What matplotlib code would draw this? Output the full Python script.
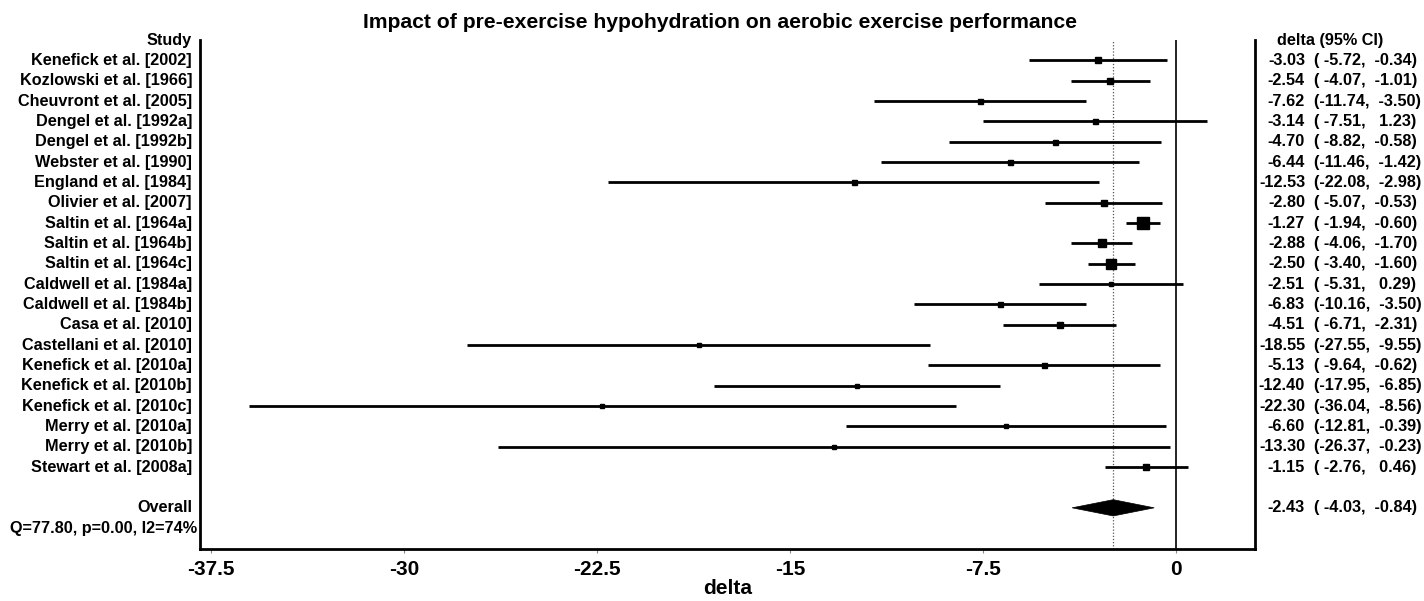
import matplotlib
matplotlib.use("Agg")
import matplotlib.pyplot as plt
from matplotlib.patches import Polygon
from matplotlib.transforms import blended_transform_factory

plt.rcParams["font.family"] = ["Liberation Sans", "DejaVu Sans"]
plt.rcParams["font.weight"] = "bold"

studies = [
    "Kenefick et al. [2002]", "Kozlowski et al. [1966]", "Cheuvront et al. [2005]",
    "Dengel et al. [1992a]", "Dengel et al. [1992b]", "Webster et al. [1990]",
    "England et al. [1984]", "Olivier et al. [2007]", "Saltin et al. [1964a]",
    "Saltin et al. [1964b]", "Saltin et al. [1964c]", "Caldwell et al. [1984a]",
    "Caldwell et al. [1984b]", "Casa et al. [2010]", "Castellani et al. [2010]",
    "Kenefick et al. [2010a]", "Kenefick et al. [2010b]", "Kenefick et al. [2010c]",
    "Merry et al. [2010a]", "Merry et al. [2010b]", "Stewart et al. [2008a]",
]
delta = [-3.03, -2.54, -7.62, -3.14, -4.70, -6.44, -12.53, -2.80, -1.27, -2.88, -2.50,
         -2.51, -6.83, -4.51, -18.55, -5.13, -12.40, -22.30, -6.60, -13.30, -1.15]
ci_low = [-5.72, -4.07, -11.74, -7.51, -8.82, -11.46, -22.08, -5.07, -1.94, -4.06, -3.40,
          -5.31, -10.16, -6.71, -27.55, -9.64, -17.95, -36.04, -12.81, -26.37, -2.76]
ci_high = [-0.34, -1.01, -3.50, 1.23, -0.58, -1.42, -2.98, -0.53, -0.60, -1.70, -1.60,
           0.29, -3.50, -2.31, -9.55, -0.62, -6.85, -8.56, -0.39, -0.23, 0.46]
# relative study weight, shown as box size (points)
box_size = [4.2, 5.0, 3.6, 3.6, 3.6, 3.6, 3.6, 3.8, 8.6, 5.8, 7.2,
            3.5, 3.6, 3.9, 3.5, 3.6, 3.5, 3.3, 3.5, 3.3, 4.3]

overall_delta = -2.43
overall_low = -4.03
overall_high = -0.84
heterogeneity = "Q=77.80, p=0.00, I2=74%"

xticks = [-37.5, -30, -22.5, -15, -7.5, 0]
xtick_labels = ["-37.5", "-30", "-22.5", "-15", "-7.5", "0"]

W, H = 1424, 601
fig = plt.figure(figsize=(W / 100, H / 100), dpi=100)
ax = fig.add_axes([200 / W, (H - 548.5) / H, 1055 / W, 508.5 / H])

n = len(studies)
rows = list(range(1, n + 1))
overall_row = n + 2
q_row = n + 3

ax.set_xlim(-37.94, 3.08)
ax.set_ylim(n + 4, 0)

# reference lines: no effect and pooled estimate
ax.axvline(0, color="black", lw=1.2, zorder=1)
ax.axvline(overall_delta, color="#555555", lw=0.9, ls=(0, (1, 1.5)), zorder=1)

for y, d, lo, hi, s in zip(rows, delta, ci_low, ci_high, box_size):
    ax.plot([lo, hi], [y, y], color="black", lw=2, solid_capstyle="butt", zorder=2)
    ax.plot(d, y, marker="s", ms=s, color="black", mec="black", zorder=3)

diamond = Polygon([(overall_low, overall_row), (overall_delta, overall_row - 0.4),
                   (overall_high, overall_row), (overall_delta, overall_row + 0.4)],
                  closed=True, facecolor="black", edgecolor="black", lw=0.5, zorder=3)
ax.add_patch(diamond)

ax.spines["top"].set_visible(False)
for side in ("left", "right", "bottom"):
    ax.spines[side].set_linewidth(2)
ax.set_yticks([])
ax.set_xticks(xticks)
ax.set_xticklabels(xtick_labels, fontsize=15, fontweight="bold")
ax.tick_params(axis="x", length=3, width=0.8, color="#888888", pad=5.5)
ax.set_xlabel("delta", fontsize=15, fontweight="bold", labelpad=0)

tr = blended_transform_factory(fig.transFigure, ax.transData)
fs = 11.7
ax.text(192 / W, 0, "Study", transform=tr, ha="right", va="center", fontsize=fs, fontweight="bold")
for y, name in zip(rows, studies):
    ax.text(192 / W, y, name, transform=tr, ha="right", va="center", fontsize=fs, fontweight="bold")
ax.text(192 / W, overall_row, "Overall", transform=tr, ha="right", va="center", fontsize=fs, fontweight="bold")
ax.text(197 / W, q_row, heterogeneity, transform=tr, ha="right", va="center", fontsize=fs, fontweight="bold")

ax.text(1277 / W, 0, "delta (95% CI)", transform=tr, ha="left", va="center", fontsize=fs, fontweight="bold")
all_rows = rows + [overall_row]
all_d = delta + [overall_delta]
all_lo = ci_low + [overall_low]
all_hi = ci_high + [overall_high]
for y, d, lo, hi in zip(all_rows, all_d, all_lo, all_hi):
    ax.text(1305 / W, y, f"{d:.2f}", transform=tr, ha="right", va="center", fontsize=fs, fontweight="bold")
    ax.text(1314 / W, y, f"({lo:6.2f}, {hi:6.2f})", transform=tr, ha="left", va="center",
            fontsize=fs, fontweight="bold")

fig.text(720 / W, (H - 28) / H, "Impact of pre-exercise hypohydration on aerobic exercise performance",
         ha="center", va="baseline", fontsize=15.2, fontweight="bold")

fig.savefig("out.png", dpi=100)
